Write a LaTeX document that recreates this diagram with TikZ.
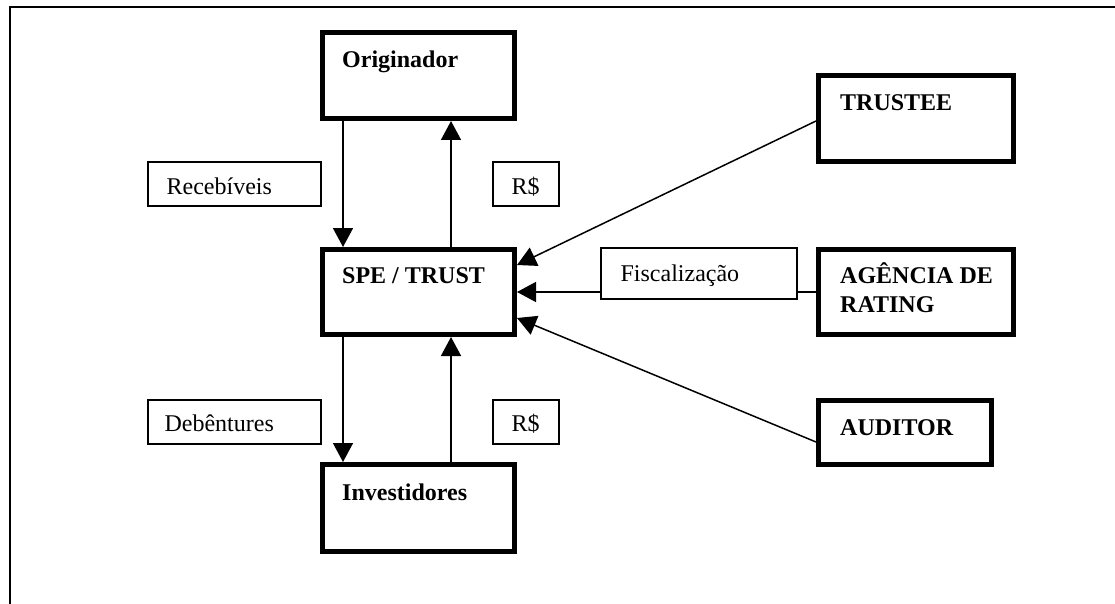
\documentclass[tikz,border=0pt]{standalone}
\usepackage{fontspec}
\setmainfont{Liberation Serif}
\usetikzlibrary{arrows.meta}
\tikzset{
  bigbox/.style={draw, line width=5pt, minimum width=#1, inner sep=0pt, fill=white},
  lblbox/.style={draw, line width=1.2pt, fill=white, inner sep=0pt},
  btxt/.style={anchor=base west, inner sep=0pt, font=\fontsize{24}{29}\selectfont\bfseries},
  ltxt/.style={anchor=base west, inner sep=0pt, font=\fontsize{24}{28}\selectfont},
  conn/.style={line width=1.5pt, -{Triangle[length=19pt,width=20pt]}},
  plain/.style={line width=1.5pt}
}
\begin{document}
\begin{tikzpicture}[x=1pt,y=-1pt]
\useasboundingbox (0,0) rectangle (1115,604);
\clip (0,0) rectangle (1115,604);
% frame
\draw[line width=2pt] (10,620) -- (10,7) -- (1130,7);
% main boxes
\node[bigbox=192pt, minimum height=86pt] (orig) at (418.5,75.5) {};
\node[bigbox=192pt, minimum height=85pt] (spe) at (418.5,292) {};
\node[bigbox=192pt, minimum height=87pt] (inv) at (418.5,508) {};
\node[bigbox=195pt, minimum height=86pt] (trustee) at (916,118.5) {};
\node[bigbox=195pt, minimum height=85pt] (agencia) at (916,292) {};
\node[bigbox=173pt, minimum height=64pt] (auditor) at (905,432.5) {};
% texts in main boxes
\node[btxt] (torig) at ([xshift=22pt,yshift=-38pt]orig.north west) {Originador};
\node[btxt] (tspe) at ([xshift=22pt,yshift=-36pt]spe.north west) {SPE / TRUST};
\node[btxt] (tinv) at ([xshift=22pt,yshift=-38pt]inv.north west) {Investidores};
\node[btxt] (ttru) at ([xshift=24pt,yshift=-38pt]trustee.north west) {TRUSTEE};
\node[btxt] (tage) at ([xshift=24pt,yshift=-36pt]agencia.north west) {\begin{tabular}[t]{@{}l@{}}AGÊNCIA DE\\RATING\end{tabular}};
\node[btxt] (taud) at ([xshift=24pt,yshift=-37pt]auditor.north west) {AUDITOR};
% vertical connectors
\draw[conn] ([xshift=-75.5pt]orig.south) -- ([xshift=-75.5pt]spe.north);
\draw[conn] ([xshift=32.5pt]spe.north) -- ([xshift=32.5pt]orig.south);
\draw[conn] ([xshift=-75.5pt]spe.south) -- ([xshift=-75.5pt]inv.north);
\draw[conn] ([xshift=32.5pt]inv.north) -- ([xshift=32.5pt]spe.south);
% side connectors
\draw[conn] ([yshift=-2.5pt]trustee.west) -- ([yshift=27pt]spe.east);
\draw[conn] (agencia.west) -- (spe.east);
\draw[conn] ([yshift=-9.5pt]auditor.west) -- ([yshift=-26pt]spe.east);
% label boxes
\node[lblbox, minimum width=173pt, minimum height=44pt] (receb) at (234.5,184) {};
\node[ltxt] at ([xshift=19pt,yshift=-33pt]receb.north west) {Recebíveis};
\node[lblbox, minimum width=66pt, minimum height=44pt] (rs1) at (526,184) {};
\node[ltxt] at ([xshift=19pt,yshift=-33pt]rs1.north west) {R\$};
\node[lblbox, minimum width=173pt, minimum height=44pt] (deb) at (234.5,422) {};
\node[ltxt] at ([xshift=17pt,yshift=-32pt]deb.north west) {Debêntures};
\node[lblbox, minimum width=66pt, minimum height=44pt] (rs2) at (526,422) {};
\node[ltxt] at ([xshift=19pt,yshift=-32pt]rs2.north west) {R\$};
\node[lblbox, minimum width=196pt, minimum height=51pt] (fisc) at (699,273.5) {};
\node[ltxt] at ([xshift=20pt,yshift=-34pt]fisc.north west) {Fiscalização};
\end{tikzpicture}
\end{document}
